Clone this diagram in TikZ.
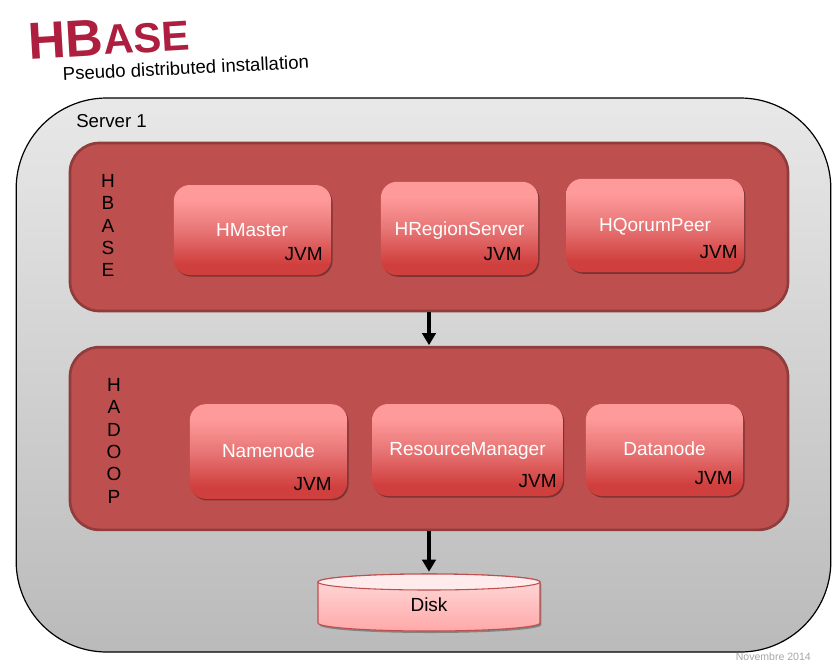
\documentclass[tikz,border=0pt]{standalone}
\usepackage{fontspec}
\setmainfont{Liberation Sans}
\usetikzlibrary{shadows,arrows.meta}
\definecolor{titlered}{HTML}{AE1E3F}
\definecolor{panelfill}{HTML}{BD4F4E}
\definecolor{panelline}{HTML}{8F3C3B}
\definecolor{boxA}{HTML}{FF9A9A}
\definecolor{boxB}{HTML}{E87676}
\definecolor{boxC}{HTML}{CF3F3D}
\pgfdeclareverticalshading{boxshade}{100bp}{
 color(0bp)=(boxC); color(31bp)=(boxC); color(50bp)=(boxB); color(67bp)=(boxA); color(100bp)=(boxA)}
\tikzset{
 x=0.75pt,y=-0.75pt,
 lab/.style={font=\fontsize{14.25pt}{16pt}\selectfont,inner sep=0pt},
 panel/.style={draw=panelline,line width=2pt,fill=panelfill,rounded corners=22pt,minimum width=538.5pt,inner sep=0pt},
 procbox/.style={rounded corners=12pt,shading=boxshade,inner sep=0pt,
   drop shadow={shadow xshift=1pt,shadow yshift=-1.2pt,opacity=.35,fill=black}},
 name label/.style={lab,text=white,anchor=base},
 jvm/.style={lab,text=black,anchor=base east},
 link/.style={draw=black,line width=3pt,-{Triangle[length=9pt,width=10pt]},shorten >=0.5pt}
}
\begin{document}
\begin{tikzpicture}
\useasboundingbox (0,0) rectangle (839,665);
\fill[white] (0,0) rectangle (839,665);
% title
\node[rotate=3.4,anchor=south west,inner sep=0pt,text=titlered,font=\bfseries] (title) at (29,60)
 {\fontsize{39pt}{39pt}\selectfont HB\fontsize{31.5pt}{31.5pt}\selectfont ASE};
\node[rotate=2.9,anchor=south west,inner sep=0pt,font=\fontsize{13.9pt}{16pt}\selectfont] (subtitle) at (63,81) {Pseudo distributed installation};
% server
\node[draw=black,line width=0.9pt,rounded corners=68pt,top color=black!9,bottom color=black!27,minimum width=611pt,minimum height=415.5pt,inner sep=0pt] (server) at (423.5,375) {};
\node[lab,anchor=base west,font=\fontsize{14pt}{16pt}\selectfont] (serverlabel) at (76,127) {Server 1};
% panels
\node[panel,minimum height=126pt] (hbase) at (429,227) {};
\node[panel,minimum height=137pt] (hadoop) at (429,438.5) {};
% stacked labels
\node[lab,align=center,font=\fontsize{14.25pt}{16.8pt}\selectfont,anchor=north] (hbaselabel) at (108,174) {H\\B\\A\\S\\E};
\node[lab,align=center,font=\fontsize{14.25pt}{16.8pt}\selectfont,anchor=north] (hadooplabel) at (114,378) {H\\A\\D\\O\\O\\P};
% boxes
\node[procbox,minimum width=118pt,minimum height=67.5pt] (hmaster) at (252.5,230) {};
\node[procbox,minimum width=118pt,minimum height=70pt] (hregion) at (459.5,228.5) {};
\node[procbox,minimum width=133.5pt,minimum height=70pt] (hqorum) at (655,225.5) {};
\node[procbox,minimum width=118pt,minimum height=71pt] (namenode) at (268.5,451.5) {};
\node[procbox,minimum width=143pt,minimum height=69pt] (resmgr) at (467.5,450) {};
\node[procbox,minimum width=118pt,minimum height=69pt] (datanode) at (664.5,450) {};
% box labels
\node[name label] at (252,236) {HMaster};
\node[name label] at (459.5,235) {HRegionServer};
\node[name label] at (655,231) {HQorumPeer};
\node[name label] at (268.5,457) {Namenode};
\node[name label] at (467.5,455) {ResourceManager};
\node[name label] at (664.5,455) {Datanode};
\node[jvm] at (323,260) {JVM};
\node[jvm] at (522,260) {JVM};
\node[jvm] at (738,258) {JVM};
\node[jvm] at (332,490) {JVM};
\node[jvm] at (557,487) {JVM};
\node[jvm] at (733,484) {JVM};
% disk
\shade[top color=red!14!white,bottom color=red!34!white,draw=panelfill,line width=0.8pt,
  drop shadow={shadow xshift=1pt,shadow yshift=-1.5pt,opacity=.3,fill=black}]
  (318,582) -- (318,623) arc[start angle=180,end angle=0,x radius=111,y radius=8]
  -- (540,582) arc[start angle=0,end angle=-180,x radius=111,y radius=8] -- cycle;
\draw[draw=panelfill,line width=0.8pt,fill=red!8!white] (429,582) ellipse[x radius=111,y radius=8];
\node[inner sep=0pt,minimum width=166.5pt,minimum height=44pt] (disk) at (429,602) {};
\node[lab,anchor=base] (disklabel) at (429,611) {Disk};
% connectors
\draw[link] (hbase.south) -- (hadoop.north);
\draw[link] (hadoop.south) -- (disk.north);
% date
\node[inner sep=0pt,anchor=base east,text=black!35,font=\fontsize{7.9pt}{9pt}\selectfont] (date) at (811,660) {Novembre 2014};
\end{tikzpicture}
\end{document}
